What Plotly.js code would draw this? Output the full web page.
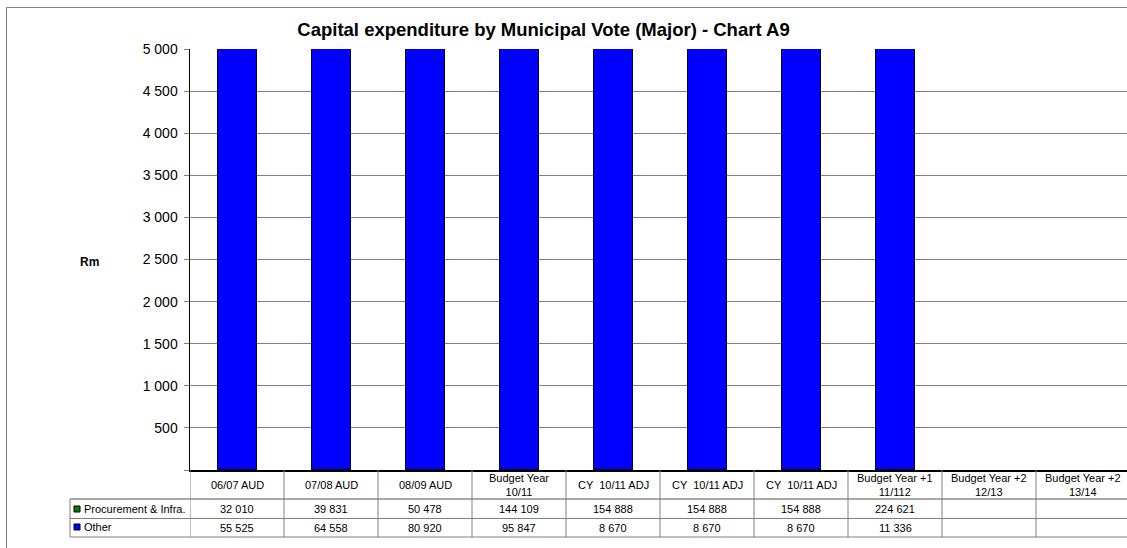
<!DOCTYPE html>
<html>
<head>
<meta charset="utf-8">
<script src="https://cdn.plot.ly/plotly-3.0.1.min.js"></script>
<style>html,body{margin:0;padding:0;background:#fff;}#chart{width:1127px;height:548px;}</style>
</head>
<body>
<div id="chart"></div>
<script>
// ---- data ----
const categories = ["06/07 AUD","07/08 AUD","08/09 AUD","Budget Year<br>10/11","CY  10/11 ADJ","CY  10/11 ADJ","CY  10/11 ADJ","Budget Year +1<br>11/112","Budget Year +2<br>12/13","Budget Year +2<br>13/14"];
const procurementInfra = [32010, 39831, 50478, 144109, 154888, 154888, 154888, 224621, null, null];
const other = [55525, 64558, 80920, 95847, 8670, 8670, 8670, 11336, null, null];
const seriesNames = ["Procurement & Infra.", "Other"];
const yTickVals = [0,500,1000,1500,2000,2500,3000,3500,4000,4500,5000];
const yTickText = ["","500","1 000","1 500","2 000","2 500","3 000","3 500","4 000","4 500","5 000"];
const titleText = "Capital expenditure by Municipal Vote (Major) - Chart A9";
const yTitle = "Rm";

// ---- layout helpers (pixel -> paper) ----
const L = 190, T = 49, B = 470, W = 937, H = B - T;
const px = x => (x - L) / W;
const py = y => (B - y) / H;
const FONT = "Liberation Sans, Arial, sans-serif";
const idx = categories.map((_, i) => i);
const fmt = v => (v === null || v === undefined) ? "" : String(v).replace(/\B(?=(\d{3})+(?!\d))/g, " ");

const traces = [
  {type:"bar", name:seriesNames[1], x:idx, y:other, marker:{color:"#0000FF", line:{color:"#000", width:1.5}}, hoverinfo:"skip"},
  {type:"bar", name:seriesNames[0], x:idx, y:procurementInfra, marker:{color:"#008000", line:{color:"#000", width:1.5}}, hoverinfo:"skip"}
];

const shapes = [];
const annotations = [];
const grey = "#808080";
// outer border
shapes.push({type:"rect", xref:"paper", yref:"paper", x0:px(6.5), x1:px(1160), y0:py(7.5), y1:py(580), fillcolor:"rgba(0,0,0,0)", line:{color:grey, width:1}, layer:"above"});
// table rows
const rowY = [499, 518.5, 537];
rowY.forEach((y, k) => {
  shapes.push({type:"line", xref:"paper", yref:"paper", x0:px(70), x1:px(1140), y0:py(y), y1:py(y), line:{color:k===0?"#a8a8a8":grey, width:k===0?2:1}});
});
shapes.push({type:"line", xref:"paper", yref:"paper", x0:px(70), x1:px(70), y0:py(499), y1:py(537), line:{color:grey, width:1}});
for (let i = 0; i <= categories.length; i++) {
  shapes.push({type:"line", xref:"x", yref:"paper", x0:i-0.5, x1:i-0.5, y0:py(470), y1:py(537), line:{color:grey, width:1}});
}
// legend keys
const keyColors = ["#008000", "#0000FF"];
[509, 527].forEach((cy, k) => {
  shapes.push({type:"rect", xref:"paper", yref:"paper", x0:px(74), x1:px(80), y0:py(cy-3), y1:py(cy+3), fillcolor:keyColors[k], line:{color:"#000", width:1}});
  annotations.push({xref:"paper", yref:"paper", x:px(82), y:py(cy), xanchor:"left", yanchor:"middle", text:seriesNames[k], showarrow:false, font:{family:FONT, size:11, color:"#000"}});
});
// table text
categories.forEach((c, i) => {
  annotations.push({xref:"x", yref:"paper", x:i, y:py(485), xanchor:"center", yanchor:"middle", text:c, showarrow:false, font:{family:FONT, size:11, color:"#000"}});
  annotations.push({xref:"x", yref:"paper", x:i, y:py(509), xanchor:"center", yanchor:"middle", text:fmt(procurementInfra[i]), showarrow:false, font:{family:FONT, size:11, color:"#000"}});
  annotations.push({xref:"x", yref:"paper", x:i, y:py(528), xanchor:"center", yanchor:"middle", text:fmt(other[i]), showarrow:false, font:{family:FONT, size:11, color:"#000"}});
});
// y title
annotations.push({xref:"paper", yref:"paper", x:px(89), y:py(262), xanchor:"center", yanchor:"middle", text:"<b>"+yTitle+"</b>", showarrow:false, font:{family:FONT, size:12, color:"#000"}});

const layout = {
  width:1127, height:548,
  margin:{l:L, r:0, t:T, b:548-B, pad:0},
  paper_bgcolor:"#fff", plot_bgcolor:"#fff",
  showlegend:false,
  barmode:"stack", bargap:0.59,
  title:{text:"<b>"+titleText+"</b>", xref:"container", yref:"container", x:543.5/1127, xanchor:"center", y:1-30/548, yanchor:"middle", font:{family:FONT, size:18.5, color:"#000"}},
  xaxis:{range:[-0.5, categories.length - 0.5 - 3/94], showticklabels:false, ticks:"", showgrid:false, zeroline:false, showline:true, linecolor:"#000", linewidth:1.5, fixedrange:true},
  yaxis:{range:[0,5000], tickvals:yTickVals, ticktext:yTickText, ticks:"outside", ticklen:5, tickcolor:grey, tickfont:{family:FONT, size:14, color:"#000"}, showgrid:true, gridcolor:grey, gridwidth:1, zeroline:false, showline:true, linecolor:"#000", linewidth:1.5, fixedrange:true, ticklabelstandoff:3},
  shapes:shapes,
  annotations:annotations,
  font:{family:FONT}
};

Plotly.newPlot("chart", traces, layout, {staticPlot:true, displayModeBar:false});
</script>
</body>
</html>
